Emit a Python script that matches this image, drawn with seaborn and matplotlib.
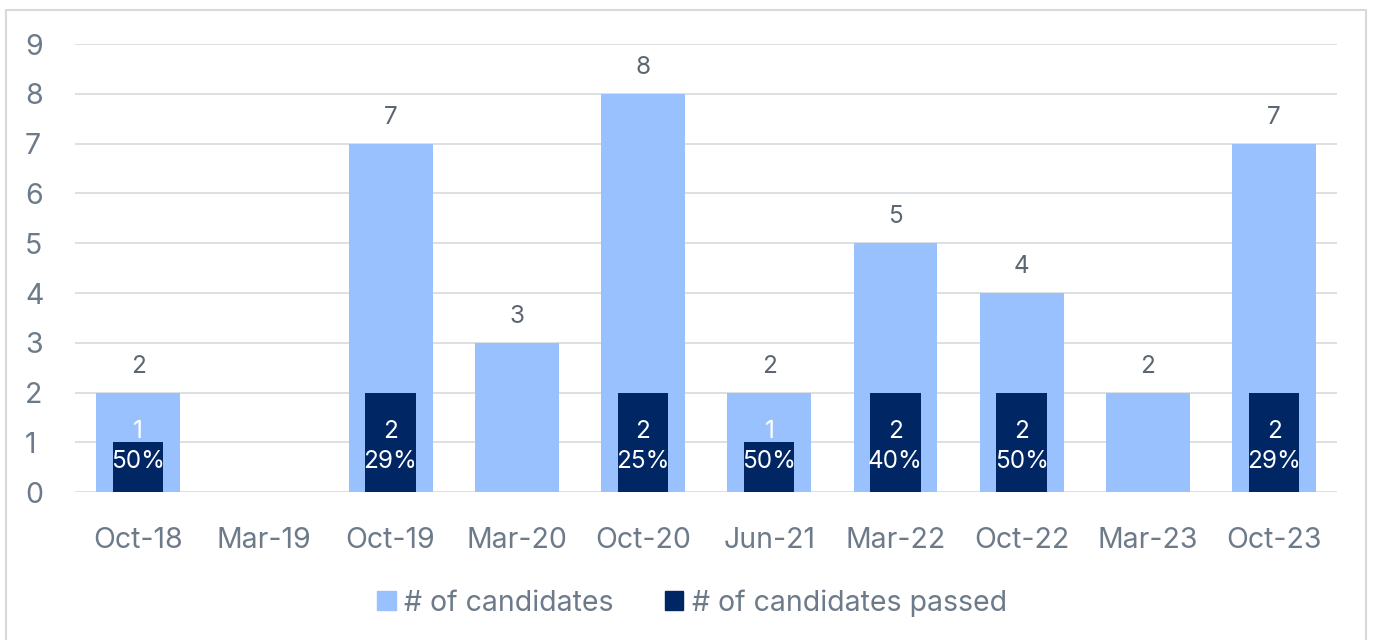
import matplotlib
matplotlib.use("Agg")
import matplotlib.pyplot as plt
import matplotlib.patches as mpatches
import pandas as pd
import seaborn as sns

months = ["Oct-18", "Mar-19", "Oct-19", "Mar-20", "Oct-20",
          "Jun-21", "Mar-22", "Oct-22", "Mar-23", "Oct-23"]
candidates = [2, 0, 7, 3, 8, 2, 5, 4, 2, 7]
passed = [1, 0, 2, 0, 2, 1, 2, 2, 0, 2]
pass_rate = ["50%", "", "29%", "", "25%", "50%", "40%", "50%", "", "29%"]

light = "#99C1FE"
dark = "#002664"
txt = "#5B6670"
tick_col = "#6C7A89"

sns.set_style("white")
plt.rcParams["font.family"] = ["Inter", "DejaVu Sans"]

df = pd.DataFrame({"month": months, "candidates": candidates, "passed": passed})

fig = plt.figure(figsize=(13.73, 6.4), dpi=100)
ax = fig.add_axes([0.0546, 0.231, 0.9194, 0.700])

sns.barplot(data=df, x="month", y="candidates", color=light, width=0.665,
            saturation=1, linewidth=0, ax=ax, zorder=2)
sns.barplot(data=df, x="month", y="passed", color=dark, width=0.40,
            saturation=1, linewidth=0, ax=ax, zorder=3)

ax.set_xlim(-0.5, len(months) - 0.5)
ax.set_ylim(0, 9)
ax.set_yticks(range(0, 10))
ax.yaxis.grid(True, color="#D9DDE1", lw=1.3, zorder=0)
ax.set_axisbelow(True)
for s in ax.spines.values():
    s.set_visible(False)
ax.set_xlabel("")
ax.set_ylabel("")
ax.tick_params(axis="both", length=0, labelsize=20.5, colors=tick_col)
ax.tick_params(axis="x", pad=25)
ax.tick_params(axis="y", pad=36)
for lab in ax.get_yticklabels():
    lab.set_horizontalalignment("left")

# labels above candidates bars
for i, v in enumerate(candidates):
    if v > 0:
        ax.text(i, v + 0.3, str(v), ha="center", va="bottom",
                fontsize=17.5, color=txt, zorder=5)

# labels inside passed bars
for i, (p, r) in enumerate(zip(passed, pass_rate)):
    if p > 0:
        ax.text(i, 0.92, f"{p}\n{r}", ha="center", va="center",
                fontsize=17.5, color="white", linespacing=1.35, zorder=5)

# outer border
fig.patches.append(mpatches.Rectangle((6 / 1373, -0.05), 1360 / 1373, 1.05 - 10 / 640,
                                      transform=fig.transFigure, fill=False,
                                      edgecolor="#D9D9D9", lw=1.5))

handles = [mpatches.Patch(color=light, label="# of candidates"),
           mpatches.Patch(color=dark, label="# of candidates passed")]
fig.legend(handles=handles, loc="center", bbox_to_anchor=(0.504, 0.058), ncol=2,
           frameon=False, fontsize=20.5, labelcolor=tick_col, handlelength=0.65,
           handleheight=0.65, handletextpad=0.3, columnspacing=1.8)

fig.savefig("out.png", dpi=100)
